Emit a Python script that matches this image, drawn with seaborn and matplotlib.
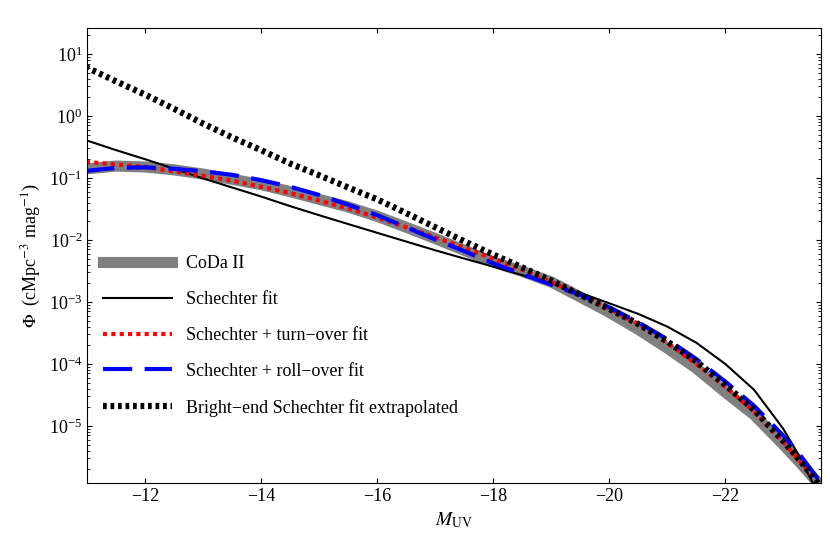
import numpy as np
import pandas as pd
import seaborn as sns
import matplotlib
matplotlib.use("Agg")
import matplotlib.pyplot as plt

plt.rcParams["font.family"] = "Liberation Serif"
plt.rcParams["mathtext.fontset"] = "stix"

muv = [-11, -11.5, -12, -12.5, -13, -13.5, -14, -14.5, -15, -15.5, -16, -16.5, -17, -17.5, -18,
       -18.5, -19, -19.5, -20, -20.5, -21, -21.5, -22, -22.5, -23, -23.3, -23.6]
coda = [0.14, 0.155, 0.15, 0.135, 0.115, 0.095, 0.078, 0.06, 0.045, 0.034, 0.024, 0.016, 0.0105,
        0.0068, 0.0044, 0.0031, 0.0021, 0.0012, 0.00068, 0.00036, 0.00018, 8.5e-5, 3.5e-5,
        1.5e-5, 5e-6, 2.5e-6, 1.2e-6]
schechter = [0.40, 0.28, 0.20, 0.14, 0.098, 0.07, 0.05, 0.035, 0.025, 0.018, 0.013, 0.0094,
             0.0068, 0.005, 0.0037, 0.0027, 0.002, 0.0014, 0.00095, 0.00064, 0.0004, 0.00022,
             0.0001, 3.8e-5, 9e-6, 3e-6, 8e-7]
turnover = [0.18, 0.165, 0.15, 0.128, 0.108, 0.09, 0.072, 0.057, 0.043, 0.032, 0.023, 0.016, 0.011,
            0.0075, 0.005, 0.0033, 0.0021, 0.0013, 0.00078, 0.00044, 0.00022, 0.0001, 4.3e-5,
            1.7e-5, 5.5e-6, 2.6e-6, 1.2e-6]
rollover = [0.13, 0.145, 0.148, 0.14, 0.128, 0.112, 0.092, 0.072, 0.053, 0.037, 0.025, 0.016, 0.0102,
            0.0066, 0.0042, 0.0028, 0.0019, 0.0013, 0.00082, 0.00047, 0.00025, 0.00012, 5.2e-5,
            2.1e-5, 7e-6, 3.3e-6, 1.4e-6]
bright = [6.0, 3.6, 2.2, 1.3, 0.75, 0.45, 0.28, 0.17, 0.11, 0.07, 0.045, 0.027, 0.016,
          0.0095, 0.0058, 0.0036, 0.0022, 0.0013, 0.00077, 0.00044, 0.00023, 0.00011, 4.6e-5,
          1.8e-5, 5.7e-6, 2.7e-6, 1.2e-6]

labels = ["CoDa II", "Schechter fit", "Schechter + turn\u2212over fit",
          "Schechter + roll\u2212over fit", "Bright\u2212end Schechter fit extrapolated"]
series = [coda, schechter, turnover, rollover, bright]
styles = [dict(color="#808080", lw=8, ls="-"),
          dict(color="black", lw=1.5, ls="-"),
          dict(color="red", lw=3, ls=(0, (1, 1))),
          dict(color="blue", lw=3, ls=(0, (7, 3))),
          dict(color="black", lw=4.5, ls=(0, (0.6, 0.6)))]

df = pd.DataFrame({"M": muv * 5, "phi": sum(series, []),
                   "lab": sum([[l] * len(muv) for l in labels], [])})

fig, ax = plt.subplots(figsize=(8.3, 5.42), dpi=100)
for lab, st in zip(labels, styles):
    sns.lineplot(data=df[df.lab == lab], x="M", y="phi", ax=ax, label=lab,
                 color=st["color"], lw=st["lw"], linestyle=st["ls"])
ax.set_yscale("log")
ax.set_xlim(-11, -23.65)
ax.set_ylim(1.2e-6, 26)
ax.set_xticks([-12, -14, -16, -18, -20, -22])
ax.set_xticklabels(["\u221212", "\u221214", "\u221216", "\u221218", "\u221220", "\u221222"])
ax.set_yticks([1e1, 1e0, 1e-1, 1e-2, 1e-3, 1e-4, 1e-5])
ax.tick_params(which="both", direction="in", top=True, right=True, labelsize=13)
ax.set_xlabel(r"$M_{\rm UV}$", fontsize=14)
ax.set_ylabel(r"$\Phi$  (cMpc$^{-3}$ mag$^{-1}$)", fontsize=13)
ax.legend(loc="lower left", bbox_to_anchor=(0.0, 0.11), frameon=False, fontsize=13,
          handlelength=3.8, labelspacing=1.05)
fig.subplots_adjust(left=0.105, right=0.989, top=0.948, bottom=0.109)
fig.savefig("out.png", dpi=100)
